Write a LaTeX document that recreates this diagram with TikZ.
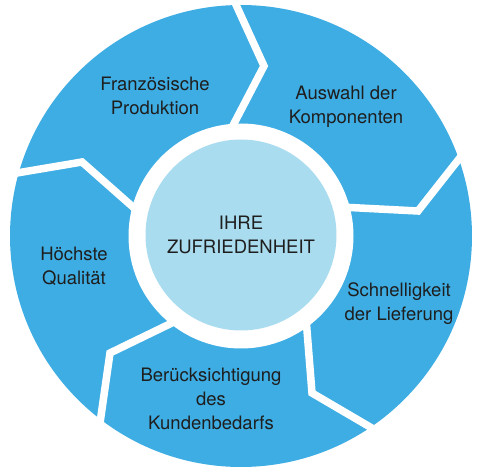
\documentclass[tikz,border=0pt]{standalone}
\usepackage{fontspec}
\setmainfont{TeX Gyre Heros}
\definecolor{ringblue}{RGB}{62,173,227}
\definecolor{coreblue}{RGB}{170,220,240}
\definecolor{txt}{RGB}{30,30,30}
\begin{document}
\begin{tikzpicture}[x=1pt,y=-1pt,
  sep/.style={draw=white,line width=7.5pt,line join=miter,miter limit=10},
  lbl/.style={anchor=base,inner sep=0pt,text=txt,font=\fontsize{18.5}{24}\selectfont}]
\useasboundingbox (0,0) rectangle (483,473);
% outer ring
\fill[ringblue] (241,236) circle[radius=231];
% chevron separators
\coordinate (s1o) at (232,-4);  \coordinate (s1b) at (264,66);  \coordinate (s1i) at (228,135);
\coordinate (s2o) at (466,150); \coordinate (s2b) at (418,211); \coordinate (s2i) at (340,207);
\coordinate (s3o) at (382,434); \coordinate (s3b) at (312,393); \coordinate (s3i) at (306,318);
\coordinate (s4o) at (98,437);  \coordinate (s4b) at (110,353); \coordinate (s4i) at (178,320);
\coordinate (s5o) at (5,175);   \coordinate (s5b) at (82,162);  \coordinate (s5i) at (142,215);
\draw[sep] (s1o) -- (s1b) -- (s1i);
\draw[sep] (s2o) -- (s2b) -- (s2i);
\draw[sep] (s3o) -- (s3b) -- (s3i);
\draw[sep] (s4o) -- (s4b) -- (s4i);
\draw[sep] (s5o) -- (s5b) -- (s5i);
% white gap and core
\fill[white] (241,236) circle[radius=112.5];
\fill[coreblue] (241,235) circle[radius=95.5];
% labels
\node[lbl] (t1a) at (155,91) {Französische};
\node[lbl] (t1b) at (155,115) {Produktion};
\node[lbl] (t2a) at (346,99.5) {Auswahl der};
\node[lbl] (t2b) at (346,124) {Komponenten};
\node[lbl] (t3a) at (399,297) {Schnelligkeit};
\node[lbl] (t3b) at (399,321) {der Lieferung};
\node[lbl] (t4a) at (211,382) {Berücksichtigung};
\node[lbl] (t4b) at (211,406) {des};
\node[lbl] (t4c) at (211,430) {Kundenbedarfs};
\node[lbl] (t5a) at (74,261) {Höchste};
\node[lbl] (t5b) at (74,285) {Qualität};
\node[lbl] (c1) at (241,230) {IHRE};
\node[lbl] (c2) at (241,254) {ZUFRIEDENHEIT};
\end{tikzpicture}
\end{document}
